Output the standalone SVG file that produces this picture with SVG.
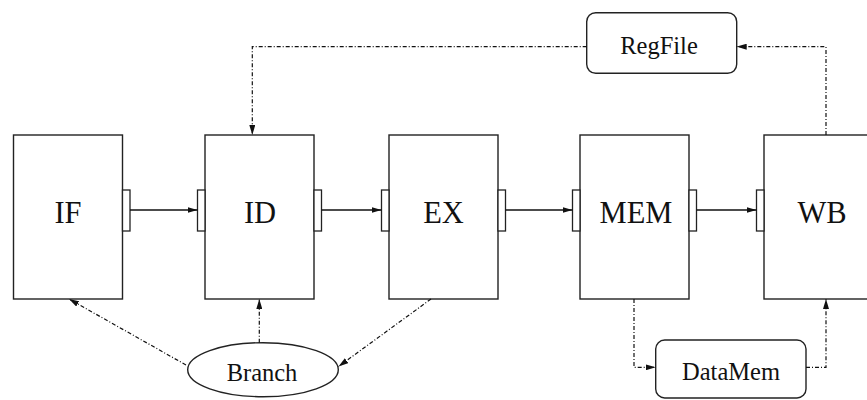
<svg xmlns="http://www.w3.org/2000/svg" width="867" height="400" viewBox="0 0 867 400">
<style>
.box{fill:#fff;stroke:#222;stroke-width:1.4}
.latch{fill:#fff;stroke:#222;stroke-width:1.3}
.lbl{font-family:"Liberation Serif","Times New Roman",serif;font-size:30.5px;fill:#111;text-anchor:middle}
.sm{font-family:"Liberation Serif","Times New Roman",serif;font-size:24.5px;fill:#111;text-anchor:middle}
.solid{fill:none;stroke:#111;stroke-width:1.3}
.dash{fill:none;stroke:#111;stroke-width:1.2;stroke-dasharray:4 2 1 2}
</style>
<defs>
<marker id="ah" viewBox="0 0 10 6" refX="10" refY="3" markerWidth="10" markerHeight="6" markerUnits="userSpaceOnUse" orient="auto">
<path d="M0,0 L10,3 L0,6 z" fill="#111"/>
</marker>
</defs>
<rect width="867" height="400" fill="#fff"/>
<g id="IF">
<rect class="box" x="13.5" y="135" width="109" height="164"/>
<rect class="latch" x="122.5" y="190" width="7.5" height="41"/>
<text class="lbl" x="68" y="223">IF</text>
</g>
<g id="ID">
<rect class="box" x="205" y="135" width="109" height="164"/>
<rect class="latch" x="197.5" y="190" width="7.5" height="41"/>
<rect class="latch" x="314" y="190" width="7.5" height="41"/>
<text class="lbl" x="260" y="223">ID</text>
</g>
<g id="EX">
<rect class="box" x="389" y="135" width="109" height="164"/>
<rect class="latch" x="381.5" y="190" width="7.5" height="41"/>
<rect class="latch" x="498" y="190" width="7.5" height="41"/>
<text class="lbl" x="443.5" y="223">EX</text>
</g>
<g id="MEM">
<rect class="box" x="580" y="135" width="109" height="164"/>
<rect class="latch" x="572.5" y="190" width="7.5" height="41"/>
<rect class="latch" x="689" y="190" width="7.5" height="41"/>
<text class="lbl" x="636" y="223">MEM</text>
</g>
<g id="WB">
<rect class="box" x="764" y="135" width="109" height="164"/>
<rect class="latch" x="756.5" y="190" width="7.5" height="41"/>
<text class="lbl" x="822" y="223">WB</text>
</g>
<g id="RegFile">
<rect class="box" x="586.7" y="12.7" width="150" height="60.6" rx="9"/>
<text class="sm" x="659" y="54">RegFile</text>
</g>
<g id="DataMem">
<rect class="box" x="655.7" y="340" width="150.3" height="58" rx="9"/>
<text class="sm" x="731" y="380">DataMem</text>
</g>
<g id="Branch">
<ellipse class="box" cx="263" cy="369.7" rx="75.3" ry="27"/>
<text class="sm" x="262" y="381">Branch</text>
</g>
<g id="connectors">
<line class="solid" x1="130" y1="210" x2="197.5" y2="210" marker-end="url(#ah)"/>
<line class="solid" x1="321.5" y1="210" x2="381.5" y2="210" marker-end="url(#ah)"/>
<line class="solid" x1="505.5" y1="210" x2="572.5" y2="210" marker-end="url(#ah)"/>
<line class="solid" x1="696.5" y1="210" x2="756.5" y2="210" marker-end="url(#ah)"/>
<polyline class="dash" points="826,135 826,46.7 736.7,46.7" marker-end="url(#ah)"/>
<polyline class="dash" points="586.7,46.7 252.3,46.7 252.3,135" marker-end="url(#ah)"/>
<polyline class="dash" points="634,299 634,367.3 655.7,367.3" marker-end="url(#ah)"/>
<polyline class="dash" points="806,367.3 826,367.3 826,299" marker-end="url(#ah)"/>
<line class="dash" x1="186" y1="365" x2="69" y2="299" marker-end="url(#ah)"/>
<line class="dash" x1="259.3" y1="342.7" x2="259.3" y2="299" marker-end="url(#ah)"/>
<line class="dash" x1="431" y1="299" x2="338.5" y2="366.5" marker-end="url(#ah)"/>
</g>
</svg>
